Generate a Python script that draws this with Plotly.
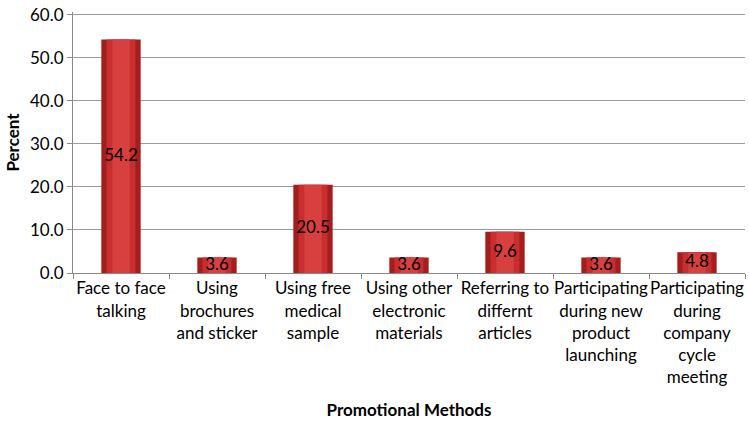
import plotly.graph_objects as go

categories = [
    "Face to face<br>talking",
    "Using<br>brochures<br>and sticker",
    "Using free<br>medical<br>sample",
    "Using other<br>electronic<br>materials",
    "Referring to<br>differnt<br>articles",
    "Participating<br>during new<br>product<br>launching",
    "Participating<br>during<br>company<br>cycle<br>meeting",
]
values = [54.2, 3.6, 20.5, 3.6, 9.6, 3.6, 4.8]
y_ticks = [0, 10, 20, 30, 40, 50, 60]

font_family = "Lato, Open Sans, sans-serif"

fig = go.Figure()
fig.add_trace(go.Bar(x=categories, y=values, width=0.41,
                     marker=dict(color="#A51E1E", line=dict(width=0)),
                     hoverinfo="skip", showlegend=False))
fig.add_trace(go.Bar(x=categories, y=values, width=0.30,
                     marker=dict(color="#C82E2E", line=dict(width=0)),
                     hoverinfo="skip", showlegend=False))
fig.add_trace(go.Bar(x=categories, y=values, width=0.18,
                     marker=dict(color="#D84040", line=dict(width=0)),
                     showlegend=False))
fig.add_trace(go.Scatter(x=categories, y=[v / 2 for v in values],
                         mode="text", text=[f"{v:.1f}" for v in values],
                         textfont=dict(size=17, color="#000000", family=font_family),
                         hoverinfo="skip", showlegend=False))

fig.update_layout(
    width=749, height=424,
    margin=dict(l=73, r=4, t=6, b=151),
    paper_bgcolor="white", plot_bgcolor="white",
    barmode="overlay",
    font=dict(family=font_family, size=17, color="#000000"),
    xaxis=dict(
        title=dict(text="<b>Promotional Methods</b>", font=dict(size=17), standoff=18),
        showline=True, linecolor="#888888", linewidth=1,
        ticks="outside", tickson="boundaries", tickcolor="#888888", ticklen=5,
        tickfont=dict(size=17), tickangle=0,
    ),
    yaxis=dict(
        title=dict(text="<b>Percent</b>", font=dict(size=17), standoff=6),
        range=[0, 60.6], tickvals=y_ticks, tickformat=".1f",
        ticklabeloverflow="allow",
        showline=True, linecolor="#888888", linewidth=1,
        ticks="outside", tickcolor="#888888", ticklen=5,
        showgrid=True, gridcolor="#9a9a9a", gridwidth=1,
        zeroline=False, tickfont=dict(size=17),
    ),
)

fig.write_html("out.html", config={"displayModeBar": False},
               post_script="document.body.style.margin='0';")
